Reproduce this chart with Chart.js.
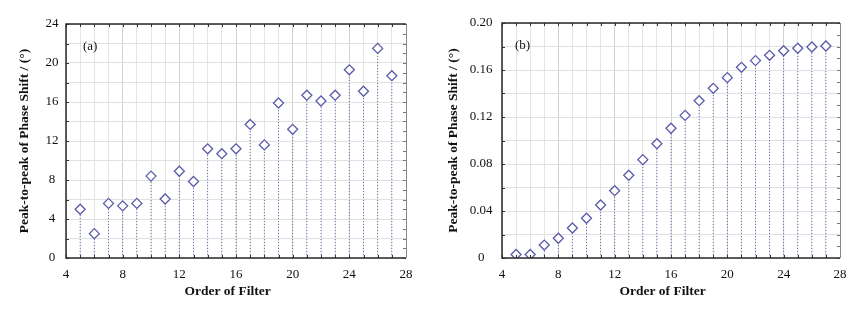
<!DOCTYPE html>
<html><head><meta charset="utf-8">
<script src="https://cdn.jsdelivr.net/npm/chart.js@4.4.1/dist/chart.umd.min.js"></script>
<style>
html,body{margin:0;padding:0;background:#fff;}
#wrap{position:relative;width:856px;height:316px;overflow:hidden;}
.c{position:absolute;top:0;width:428px;height:316px;}
</style></head><body>
<div id="wrap">
<div class="c" style="left:0"><canvas id="ca"></canvas></div>
<div class="c" style="left:428px"><canvas id="cb"></canvas></div>
</div>
<script>
// ---- data ----
const filterOrders = [5,6,7,8,9,10,11,12,13,14,15,16,17,18,19,20,21,22,23,24,25,26,27];
const shiftA = [5.0,2.5,5.6,5.35,5.6,8.4,6.05,8.9,7.85,11.2,10.7,11.2,13.7,11.6,15.9,13.2,16.7,16.1,16.7,19.3,17.1,21.5,18.7];
const shiftB = [0.003,0.003,0.011,0.0168,0.0255,0.0338,0.0451,0.0573,0.0704,0.0837,0.0973,0.1104,0.1214,0.1339,0.1444,0.1535,0.1623,0.168,0.1725,0.1764,0.1785,0.1796,0.1804];
const xTickLabels = [4,8,12,16,20,24,28];
const yTickLabelsA = ['0','4','8','12','16','20','24'];
const yTickLabelsB = ['0','0.04','0.08','0.12','0.16','0.20'];
const panelLabels = ['(a)','(b)'];
const xTitle = 'Order of Filter';
const yTitle = 'Peak-to-peak of Phase Shift / (°)';

const SERIF = '"Liberation Serif","Times New Roman",serif';
const MARK = '#5a5aaa';
const STEM = '#6c6cb6';

const framePlugin = {
  id: 'frame',
  afterDraw(chart, args, opts) {
    const {ctx, chartArea: {left, right, top, bottom}, scales: {x, y}} = chart;
    ctx.save();
    ctx.lineWidth = 1;
    ctx.strokeStyle = '#333';
    const tl = 3;
    ctx.beginPath();
    x.ticks.forEach(t => {
      const px = Math.round(x.getPixelForValue(t.value)) + 0.5;
      ctx.moveTo(px, bottom); ctx.lineTo(px, bottom - tl);
      ctx.moveTo(px, top); ctx.lineTo(px, top + tl);
    });
    y.ticks.forEach(t => {
      const py = Math.round(y.getPixelForValue(t.value)) + 0.5;
      ctx.moveTo(left, py); ctx.lineTo(left + tl, py);
    });
    ctx.stroke();
    ctx.strokeStyle = '#777';
    ctx.beginPath();
    const half = opts.step / 2;
    const n = Math.round((y.max - y.min) / half);
    for (let i = 0; i <= n; i++) {
      const py = Math.round(y.getPixelForValue(y.min + i * half)) + 0.5;
      ctx.moveTo(right, py); ctx.lineTo(right - tl, py);
    }
    ctx.stroke();
    ctx.lineWidth = 1.5;
    ctx.strokeStyle = '#2a2a2a';
    ctx.beginPath();
    ctx.moveTo(right, top); ctx.lineTo(left, top); ctx.lineTo(left, bottom); ctx.lineTo(right, bottom);
    ctx.stroke();
    ctx.lineWidth = 1;
    ctx.strokeStyle = '#888';
    ctx.beginPath(); ctx.moveTo(right + 0.5, top); ctx.lineTo(right + 0.5, bottom); ctx.stroke();
    ctx.fillStyle = '#111';
    ctx.font = '13px ' + SERIF;
    ctx.textBaseline = 'middle';
    ctx.textAlign = 'left';
    ctx.fillText(opts.label, left + opts.dx, top + opts.dy);
    ctx.restore();
  }
};

function makeChart(id, values, cfg) {
  const stems = [];
  filterOrders.forEach((xv, i) => {
    stems.push({x: xv, y: 0}, {x: xv, y: values[i]}, {x: xv, y: null});
  });
  const pts = filterOrders.map((xv, i) => ({x: xv, y: values[i]}));
  return new Chart(document.getElementById(id), {
    type: 'scatter',
    data: {
      datasets: [
        {data: pts, order: 1, showLine: false, pointStyle: 'rectRot', pointRadius: 5,
         pointBorderWidth: 1.3, pointBorderColor: MARK, pointBackgroundColor: '#fff'},
        {data: stems, order: 2, showLine: true, spanGaps: false, pointRadius: 0,
         borderColor: STEM, borderWidth: 1, borderDash: [1, 2]}
      ]
    },
    options: {
      responsive: true, maintainAspectRatio: false, animation: false,
      layout: {padding: {top: cfg.padTop, right: cfg.padRight, left: 0, bottom: 0}},
      plugins: {legend: {display: false}, tooltip: {enabled: false},
        frame: {label: cfg.label, dx: cfg.labelDx, dy: cfg.labelDy, step: cfg.yStep}},
      scales: {
        x: {
          type: 'linear', min: 4, max: 28,
          afterFit: s => { s.height = 58; },
          border: {display: false},
          grid: {drawTicks: false, color: c => (c.tick && c.tick.value % 4 === 0) ? '#d0d0d0' : '#e4e4e4'},
          ticks: {stepSize: 1, autoSkip: false, maxRotation: 0, padding: 9, color: '#111',
            font: {family: SERIF, size: 13},
            callback: v => xTickLabels.includes(v) ? String(v) : ''},
          title: {display: true, text: xTitle + '\u00a0\u00a0\u00a0\u00a0\u00a0', color: '#111',
            font: {family: SERIF, size: 13.5, weight: 'bold'}, padding: {top: 0, bottom: 16}}
        },
        y: {
          min: 0, max: cfg.yMax,
          afterFit: s => { s.width = cfg.yWidth; },
          border: {display: false},
          grid: {drawTicks: false, color: '#e0e0e0'},
          ticks: {stepSize: cfg.yStep, autoSkip: false, crossAlign: 'center', padding: cfg.yPad, color: '#111',
            font: {family: SERIF, size: 13},
            callback: v => {
              const lab = cfg.yLabels.find(l => Math.abs(parseFloat(l) - v) < 1e-9);
              return lab === undefined ? '' : lab;
            }},
          title: {display: true, text: yTitle, color: '#111',
            font: {family: SERIF, size: 13.5, weight: 'bold'}, padding: {top: cfg.yTitlePad, bottom: 0}}
        }
      }
    },
    plugins: [framePlugin]
  });
}

makeChart('ca', shiftA, {yMax: 24, yStep: 2, yLabels: yTickLabelsA, yWidth: 66, yPad: 7.5,
  yTitlePad: 16, padTop: 24, padRight: 22, label: panelLabels[0], labelDx: 17, labelDy: 23});
makeChart('cb', shiftB, {yMax: 0.2, yStep: 0.02, yLabels: yTickLabelsB, yWidth: 74, yPad: 9.5,
  yTitlePad: 17.5, padTop: 23, padRight: 16, label: panelLabels[1], labelDx: 13, labelDy: 23});
</script>
</body></html>
